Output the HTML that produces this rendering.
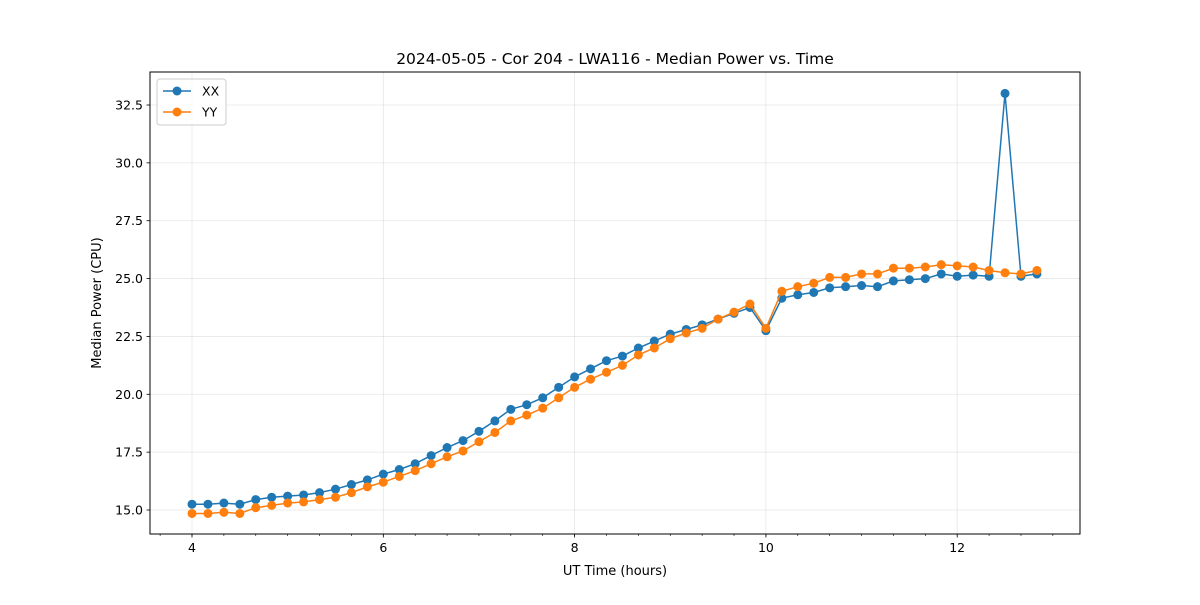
<!DOCTYPE html>
<html><head><meta charset="utf-8"><style>
body{margin:0;background:#fff;font-family:"Liberation Sans","DejaVu Sans",sans-serif}
text{font-family:"DejaVu Sans","Liberation Sans",sans-serif}
</style></head><body>
<svg id="chart" width="1200" height="600" xmlns="http://www.w3.org/2000/svg"></svg>
<script>
const xxValues=[15.25,15.25,15.3,15.25,15.45,15.55,15.6,15.65,15.75,15.9,16.1,16.3,16.55,16.75,17.0,17.35,17.7,18.0,18.4,18.85,19.35,19.55,19.85,20.3,20.75,21.1,21.45,21.65,22.0,22.3,22.6,22.8,23.0,23.25,23.5,23.75,22.75,24.15,24.3,24.4,24.6,24.65,24.7,24.65,24.9,24.95,25.0,25.2,25.1,25.15,25.1,33.0,25.1,25.2];
const yyValues=[14.85,14.85,14.9,14.85,15.1,15.2,15.3,15.35,15.45,15.55,15.75,16.0,16.2,16.45,16.7,17.0,17.3,17.55,17.95,18.35,18.85,19.1,19.4,19.85,20.3,20.65,20.95,21.25,21.7,22.0,22.4,22.65,22.85,23.25,23.55,23.9,22.85,24.45,24.65,24.8,25.05,25.05,25.2,25.2,25.45,25.45,25.5,25.6,25.55,25.5,25.35,25.25,25.2,25.35];
const timeStart=4.0, timeStep=1/6;
const xTicks=[4,6,8,10,12];
const yTicks=[15.0,17.5,20.0,22.5,25.0,27.5,30.0,32.5];

const svg=document.getElementById('chart');
const NS='http://www.w3.org/2000/svg';
const L=150,R=1080,T=72,B=534;
const X=v=>192+(v-4)*95.65;
const Y=v=>510-(v-15)*23.143;
function el(tag,attrs,parent){const e=document.createElementNS(NS,tag);for(const k in attrs)e.setAttribute(k,attrs[k]);(parent||svg).appendChild(e);return e;}

const grid=el('g',{});


xTicks.forEach(t=>el('line',{x1:X(t),x2:X(t),y1:T,y2:B,stroke:'#b0b0b0','stroke-opacity':0.3,'stroke-width':0.8},grid));
yTicks.forEach(t=>el('line',{x1:L,x2:R,y1:Y(t),y2:Y(t),stroke:'#b0b0b0','stroke-opacity':0.3,'stroke-width':0.8},grid));

function series(vals,color,name){
  const g=el('g',{});
  
  
  const pts=vals.map((v,i)=>X(timeStart+i*timeStep).toFixed(1)+','+Y(v).toFixed(1)).join(' ');
  el('polyline',{points:pts,fill:'none',stroke:color,'stroke-width':1.5},g);
  vals.forEach((v,i)=>{const c=el('circle',{cx:X(timeStart+i*timeStep),cy:Y(v),r:4.5,fill:color},g);
    
    });
}
series(xxValues,'#1f77b4','series-xx');
series(yyValues,'#ff7f0e','series-yy');

const frame=el('rect',{x:L,y:T,width:R-L,height:B-T,fill:'none',stroke:'#000','stroke-width':1});



const xa=el('g',{});


for(let m=4-1/3;m<13.2;m+=1/3){el('line',{x1:X(m),x2:X(m),y1:B,y2:B+2,stroke:'#000','stroke-width':0.6},xa);}
xTicks.forEach(t=>{el('line',{x1:X(t),x2:X(t),y1:B,y2:B+3.5,stroke:'#000','stroke-width':0.8},xa);
  const tx=el('text',{x:X(t),y:B+18,'text-anchor':'middle','font-size':12.5},xa);tx.textContent=t;});
const xt=el('text',{x:(L+R)/2,y:575,'text-anchor':'middle','font-size':13});xt.textContent='UT Time (hours)';



const ya=el('g',{});


yTicks.forEach(t=>{el('line',{x1:L-3.5,x2:L,y1:Y(t),y2:Y(t),stroke:'#000','stroke-width':0.8},ya);
  const tx=el('text',{x:L-7,y:Y(t)+4.5,'text-anchor':'end','font-size':12.5},ya);tx.textContent=t.toFixed(1);});
const yt=el('text',{x:101,y:303,'text-anchor':'middle','font-size':13,transform:'rotate(-90 101 303)'});yt.textContent='Median Power (CPU)';



const title=el('text',{x:(L+R)/2,y:64,'text-anchor':'middle','font-size':15.5});title.textContent='2024-05-05 - Cor 204 - LWA116 - Median Power vs. Time';



const lg=el('g',{});


el('rect',{x:157,y:79,width:69,height:46,rx:3,fill:'#fff','fill-opacity':0.8,stroke:'#ccc'},lg);
[['XX','#1f77b4',91],['YY','#ff7f0e',112]].forEach(([n,c,y])=>{
  const e=el('g',{},lg);
  
  
  el('line',{x1:163,x2:191,y1:y,y2:y,stroke:c,'stroke-width':1.5},e);
  el('circle',{cx:177,cy:y,r:4.5,fill:c},e);
  const t=el('text',{x:202,y:y+4.5,'font-size':12.5},e);t.textContent=n;});
</script>
</body></html>
